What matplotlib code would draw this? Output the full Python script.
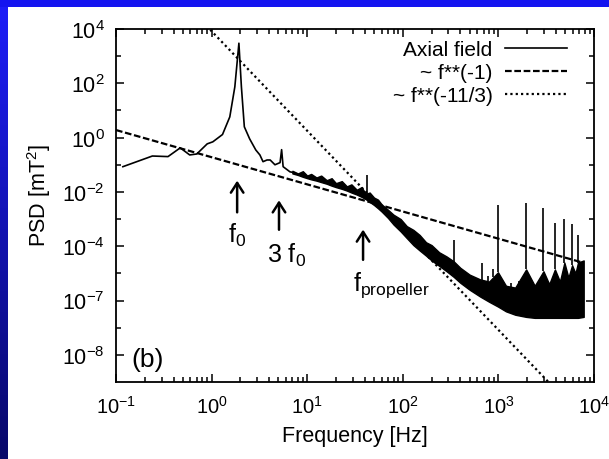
import numpy as np
import matplotlib.pyplot as plt
from matplotlib.ticker import FixedLocator, FixedFormatter, LogLocator, NullFormatter

plt.rcParams['font.family'] = ['Liberation Sans', 'DejaVu Sans']
plt.rcParams['mathtext.fontset'] = 'custom'
plt.rcParams['mathtext.rm'] = 'Liberation Sans'
plt.rcParams['mathtext.it'] = 'Liberation Sans'
plt.rcParams['mathtext.default'] = 'regular'

# Axial field - smooth part at low frequency
line_freq = [0.118, 0.24, 0.35, 0.47, 0.59, 0.70, 0.9, 1.03, 1.3, 1.55, 1.75, 1.93,
             2.05, 2.2, 2.5, 2.9, 3.2, 3.45, 3.8, 4.1, 4.6, 5.2, 5.4, 5.6, 6.6, 7.5]
line_psd = [0.085, 0.21, 0.2, 0.42, 0.23, 0.25, 0.59, 0.7, 1.3, 5.8, 74, 3000,
            74, 2.5, 0.9, 0.35, 0.23, 0.13, 0.15, 0.15, 0.1, 0.12, 0.36, 0.085, 0.055, 0.05]

# Axial field - noisy band, lower and upper envelope
band_freq = [7, 8, 9, 10, 11, 12.5, 14, 16, 18, 20, 23, 26, 29, 33, 37, 41, 45, 50, 55, 60,
             70, 80, 95, 110, 129, 150, 175, 200, 240, 287, 340, 400, 500, 645, 800,
             990, 1200, 1500, 1950, 2400, 2960, 3400, 3900, 4400, 4900, 5400,
             5900, 6400, 6800, 7800]
band_low = [0.048, 0.042, 0.036, 0.032, 0.029, 0.026, 0.023, 0.02, 0.017, 0.015,
            0.013, 0.0112, 0.0095, 0.008, 0.0066, 0.0054, 0.0043, 0.0033, 0.0025, 0.0019,
            1.1e-3, 6.3e-4, 3.5e-4, 2e-4, 1.1e-4, 7e-5, 4.5e-5, 3e-5, 1.9e-5, 1.2e-5,
            7.5e-6, 4.5e-6, 2.5e-6, 1.4e-6, 9e-7,
            6e-7, 4e-7, 3e-7, 2.5e-7, 2.3e-7, 2.3e-7, 2.3e-7, 2.3e-7, 2.3e-7, 2.3e-7,
            2.3e-7, 2.3e-7, 2.3e-7, 2.3e-7, 2.5e-7]
band_high = [0.06, 0.048, 0.058, 0.04, 0.046, 0.034, 0.04, 0.027, 0.032, 0.021,
             0.025, 0.016, 0.019, 0.012, 0.015, 0.0085, 0.0095, 0.0062, 0.0052, 0.0035,
             2.2e-3, 1.45e-3, 1.0e-3, 5.5e-4, 4e-4, 2.6e-4, 1.4e-4, 1.1e-4, 6e-5, 4.2e-5,
             2.8e-5, 1.6e-5, 9e-6, 6e-6, 5e-6,
             1.1e-5, 3.5e-6, 3e-6, 1.4e-5, 3.5e-6, 1.2e-5, 4e-6, 1.4e-5, 5e-6, 2.5e-5,
             7e-6, 2e-5, 1e-5, 2.5e-5, 3e-5]

# Narrow spectral lines sticking out of the band
spike_freq = [42, 343, 680, 780, 880, 990, 1350, 1640, 1950, 2960, 3900, 4900, 5900, 6800]
spike_top = [0.043, 1.7e-4, 2.5e-5, 8e-6, 1.4e-5, 3.4e-3, 4.6e-6, 3.5e-6,
             3.8e-3, 2.6e-3, 7.4e-4, 1e-3, 6.4e-4, 2.7e-4]

# Power laws
powlaw_freq = [0.1, 7800]
c_one = 0.19
c_kolm = 8300
kolm_freq = [0.1, 1e4]

y_ticks = [1e4, 1e2, 1e0, 1e-2, 1e-4, 1e-6, 1e-8]
y_labels = ['$10^{4}$', '$10^{2}$', '$10^{0}$', '$10^{-2}$', '$10^{-4}$', '$10^{-7}$', '$10^{-8}$']
y_minor = [1e3, 1e1, 1e-1, 1e-3, 1e-5, 1e-7]
x_ticks = [1e-1, 1e0, 1e1, 1e2, 1e3, 1e4]
x_labels = ['$10^{-1}$', '$10^{0}$', '$10^{1}$', '$10^{2}$', '$10^{3}$', '$10^{4}$']


def draw_border(fig):
    # blue slide frame on the left and top
    left = fig.add_axes([0, 0, 8 / 609, 1], zorder=-5)
    grad = np.linspace(0, 1, 200)[:, None]
    top_c = np.array([30, 30, 250]) / 255
    bot_c = np.array([8, 8, 105]) / 255
    img = top_c[None, None, :] * (1 - grad[:, :, None]) + bot_c[None, None, :] * grad[:, :, None]
    left.imshow(img, aspect='auto', extent=[0, 1, 0, 1])
    left.axis('off')
    top = fig.add_axes([0, 1 - 8 / 460, 1, 8 / 460], zorder=-5)
    top.set_facecolor((20 / 255, 20 / 255, 240 / 255))
    top.set_xticks([])
    top.set_yticks([])
    for s in top.spines.values():
        s.set_visible(False)


fig = plt.figure(figsize=(6.09, 4.60), dpi=100)
draw_border(fig)
ax = fig.add_axes([116 / 609, 1 - 383 / 460, 478 / 609, 353 / 460])

ax.set_xscale('log')
ax.set_yscale('log')

# data
line_h, = ax.plot(line_freq, line_psd, color='black', lw=1.2, label='Axial field')
ax.fill_between(band_freq, band_low, band_high, color='black', lw=1.0)
base = 10 ** np.interp(np.log10(spike_freq), np.log10(band_freq), np.log10(band_high))
ax.vlines(spike_freq, base, spike_top, color='black', lw=1.2)

pf = np.array(powlaw_freq)
one_h, = ax.plot(pf, c_one / pf, color='black', lw=1.6, dashes=(3, 1.2), label='~ f**(-1)')
kf = np.array(kolm_freq)
kolm_h, = ax.plot(kf, c_kolm * kf ** (-11 / 3), color='black', lw=1.6, dashes=(1, 1.4),
                  label='~ f**(-11/3)')

ax.set_xlim(1e-1, 1e4)
ax.set_ylim(1e-9, 1e4)

ax.xaxis.set_major_locator(FixedLocator(x_ticks))
ax.xaxis.set_major_formatter(FixedFormatter(x_labels))
ax.xaxis.set_minor_locator(LogLocator(base=10, subs=np.arange(2, 10)))
ax.xaxis.set_minor_formatter(NullFormatter())
ax.yaxis.set_major_locator(FixedLocator(y_ticks))
ax.yaxis.set_major_formatter(FixedFormatter(y_labels))
ax.yaxis.set_minor_locator(FixedLocator(y_minor))
ax.yaxis.set_minor_formatter(NullFormatter())

ax.tick_params(which='both', direction='in', top=True, right=True, width=1.1)
ax.tick_params(axis='y', which='major', length=6, labelsize=15.5, pad=8)
ax.tick_params(axis='x', which='major', length=6, labelsize=14.5, pad=9)
ax.tick_params(which='minor', length=3.5)
for s in ax.spines.values():
    s.set_linewidth(1.3)

ax.set_xlabel('Frequency [Hz]', fontsize=15.5, labelpad=6)
ax.set_ylabel('PSD [mT$^{2}$]', fontsize=15.5)
ax.yaxis.set_label_coords(-0.132, 0.53)

# arrows and labels
arrow = dict(arrowstyle='->,head_length=0.7,head_width=0.45', color='black', lw=1.8)
ax.annotate('', xy=(1.85, 0.033), xytext=(1.85, 1.4e-3), arrowprops=arrow)
ax.text(1.85, 2.7e-4, '$f_0$', fontsize=18, ha='center', va='center')
ax.annotate('', xy=(5.07, 6.2e-3), xytext=(5.07, 3.2e-4), arrowprops=arrow)
ax.text(6.15, 4.9e-5, '$3\\ f_0$', fontsize=18, ha='center', va='center')
ax.annotate('', xy=(38.4, 5.2e-4), xytext=(38.4, 2.5e-5), arrowprops=arrow)
ax.text(30, 3.9e-6, '$f_{propeller}$', fontsize=18, ha='left', va='center')

ax.text(0.033, 0.065, '(b)', transform=ax.transAxes, fontsize=19, ha='left', va='center')

ax.legend(handles=[line_h, one_h, kolm_h], loc='upper right', frameon=False,
          markerfirst=False, fontsize=15, handlelength=3.0, handletextpad=0.6,
          labelspacing=0.2, borderaxespad=0.3, bbox_to_anchor=(0.975, 1.01))

fig.savefig('out.png', dpi=100)
